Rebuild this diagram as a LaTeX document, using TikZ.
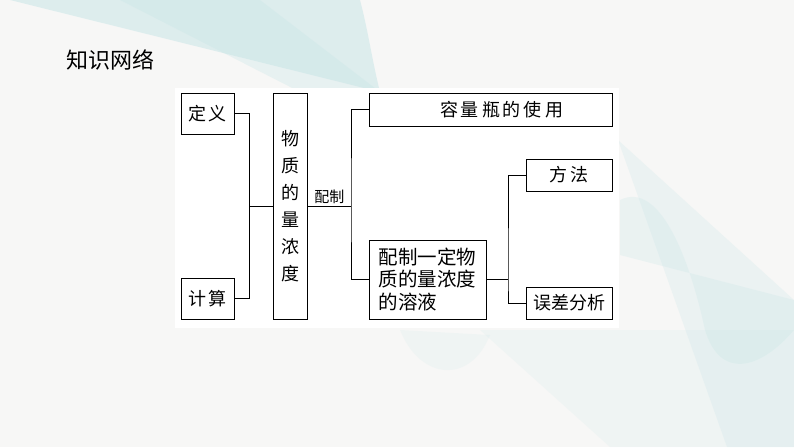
\documentclass[tikz,border=0pt]{standalone}
\usepackage{fontspec}
\setmainfont{Noto Sans CJK SC}
\usetikzlibrary{positioning}

\definecolor{paper}{RGB}{247,247,246}
\definecolor{tealwash}{RGB}{196,228,230}

\newcommand{\cgap}{\hspace{3pt}}

\begin{document}
\begin{tikzpicture}[x=1pt,y=-1pt,
  box/.style={draw,line width=1pt,inner sep=0pt,align=center,
    font=\fontsize{18}{20}\selectfont},
  wire/.style={line width=0.8pt},
  wash/.style={fill=tealwash,draw=none}]
% Background page with faint shapes
\fill[paper] (0,0) rectangle (794,447);
\useasboundingbox (0,0) rectangle (794,447);
\fill[wash,opacity=0.5] (10,0) -- (360,0) .. controls (368,30) and (372,60) .. (380,92) -- cycle;
\fill[wash,opacity=0.3] (120,0) -- (260,0) -- (380,92) -- (300,92) -- cycle;
\fill[wash,opacity=0.22] (618,140) -- (794,300) -- (794,447) -- (727,447) -- cycle;
\fill[wash,opacity=0.25] (620,200) .. controls (660,180) and (690,260) .. (705,330)
  .. controls (720,380) and (760,370) .. (794,330) -- (794,300) -- (620,255) -- cycle;
\fill[wash,opacity=0.15] (480,330) -- (794,330) -- (794,447) -- (610,447) -- cycle;
\fill[wash,opacity=0.15] (400,330) .. controls (420,380) and (470,385) .. (490,335) -- cycle;

% White panel
\fill[white] (175,88) rectangle (619,328);

% Title
\node[font=\fontsize{22}{26}\selectfont] (title) at (110,60) {知识网络};

% Boxes
\node[box,minimum width=53,minimum height=41] (dingyi) at (207.5,113.5) {定\cgap 义};
\node[box,minimum width=53,minimum height=41] (jisuan) at (207.5,298.5) {计\cgap 算};
\node[box,minimum width=34,minimum height=226,
  font=\fontsize{18}{27}\selectfont] (wuzhi) at (290,206) {物\\质\\的\\量\\浓\\度};
\node[box,minimum width=243,minimum height=33] (rongliang) at (490.5,109.5)
  {\hspace{22pt}容\cgap 量\cgap 瓶\cgap 的\cgap 使\cgap 用};
\node[box,minimum width=117,minimum height=79,align=left,
  font=\fontsize{19.5}{22.5}\selectfont] (peizhi) at (427.5,279.5)
  {配制一定物\\质的量浓度\\的溶液};
\node[box,minimum width=86,minimum height=32] (fangfa) at (569,175) {方\cgap 法};
\node[box,minimum width=86,minimum height=32] (wucha) at (569,303) {误差分析};

% Branch points
\coordinate (b1) at (249,206);
\coordinate (b2) at (351,206);
\coordinate (b3) at (508,279.5);

% Connectors
\draw[wire] (dingyi.east) -| (b1);
\draw[wire] (jisuan.east) -| (b1);
\draw[wire] (b1) -- (wuzhi.west);
\draw[wire] (wuzhi.east) -- node[above,font=\fontsize{15}{18}\selectfont,inner sep=2pt] {配制} (b2);
\draw[wire] (rongliang.west) -| (b2) |- (peizhi.west);
\draw[wire] (peizhi.east) -- (b3);
\draw[wire] (fangfa.west) -| (b3) |- (wucha.west);
\end{tikzpicture}
\end{document}
